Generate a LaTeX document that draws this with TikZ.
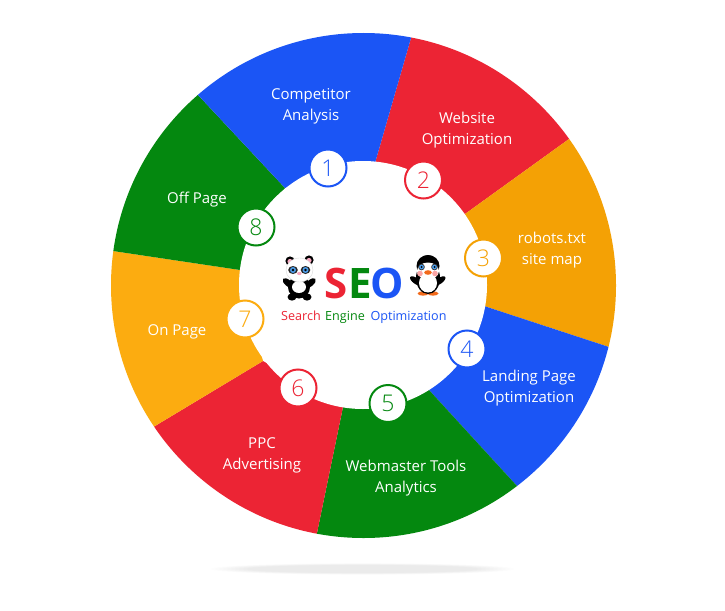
\documentclass[tikz,border=0pt]{standalone}
\usepackage{fontspec}
\setmainfont{Open Sans}
\newfontfamily\numfont{Open Sans Light}
\usetikzlibrary{calc}
\definecolor{sblue}{HTML}{1B55F5}
\definecolor{sred}{HTML}{EC2434}
\definecolor{sorange}{HTML}{F4A105}
\definecolor{sorangeb}{HTML}{FCAC10}
\definecolor{sgreen}{HTML}{04880F}
\definecolor{spink}{HTML}{F7A8C0}
\definecolor{seye}{HTML}{4A9BE8}
\definecolor{scheek}{HTML}{FBA5A5}
\definecolor{sbeak}{HTML}{F26A1B}
\tikzset{
  x=1pt,y=-1pt,
  lab/.style={text=white,align=center,font=\fontsize{15}{21}\selectfont,inner sep=0pt},
  num/.style={circle,draw=#1,fill=white,line width=2pt,minimum size=37pt,inner sep=0pt,text=#1,font=\numfont\fontsize{23}{24}\selectfont},
  seol/.style={font=\bfseries\fontsize{42}{44}\selectfont,anchor=base,inner sep=0pt},
  subt/.style={font=\fontsize{12.6}{14}\selectfont,anchor=base,inner sep=0pt}
}
% colour, outer point a, outer point b, inner point a, inner point b
\newcommand{\sect}[5]{\fill[#1] (#4) -- ($(#4)!1.7!(#2)$) -- ($(#5)!1.7!(#3)$) -- (#5) -- cycle;}
\begin{document}
\begin{tikzpicture}
\useasboundingbox (0,0) rectangle (725,610);
\fill[white] (0,0) rectangle (725,610);
% floor shadow
\foreach \k in {0,...,9}{
  \fill[black,opacity=0.008] (362.5,569) ellipse[x radius={152-\k*4},y radius={5.8-\k*0.2}];
}
% wheel
\begin{scope}
\clip (363.5,285.5) circle[radius=252.5];
\sect{sred}{411,38}{569,139}{375,163}{465,214}
\sect{sorange}{569,139}{609,347}{465,214}{484,306}
\sect{sblue}{609,347}{517,486}{484,306}{429,390}
\sect{sgreen}{517,486}{317,533}{429,390}{343,407}
\sect{sred}{317,533}{155,426}{343,407}{263,361}
\sect{sorangeb}{155,426}{113,251}{263,361}{240,270}
\sect{sgreen}{113,251}{198,95}{240,270}{285,188}
\sect{sblue}{198,95}{411,38}{285,188}{375,163}
\end{scope}
\fill[white] (363,285) circle[radius=124];
% labels
\node[lab] (l1) at (311,106) {Competitor\\Analysis};
\node[lab] (l2) at (467,130) {Website\\Optimization};
\node[lab] (l3) at (552,250) {robots.txt\\site map};
\node[lab] (l4) at (529,388) {Landing Page\\Optimization};
\node[lab] (l5) at (406,478) {Webmaster Tools\\Analytics};
\node[lab] (l6) at (262,455) {PPC\\Advertising};
\node[lab] (l7) at (177,332) {On Page};
\node[lab] (l8) at (197,200) {Off Page};
% numbers
\node[num=sblue] (n1) at (328,168) {1};
\node[num=sred] (n2) at (423.5,180) {2};
\node[num=sorange] (n3) at (483.5,258) {3};
\node[num=sblue] (n4) at (467,349) {4};
\node[num=sgreen] (n5) at (388,403.5) {5};
\node[num=sred] (n6) at (298,388) {6};
\node[num=sorangeb] (n7) at (245,319) {7};
\node[num=sgreen] (n8) at (256,227) {8};
% title
\node[seol,text=sred] (s) at (336.5,298) {S};
\node[seol,text=sgreen] (e) at (360,298) {E};
\node[seol,text=sblue] (o) at (387.5,298) {O};
\node[subt,text=sred] (w1) at (301,320) {Search};
\node[subt,text=sgreen] (w2) at (345,320) {Engine};
\node[subt,text=sblue] (w3) at (408.5,320) {Optimization};
% panda
\fill[black] (290,261) circle[radius=4.6];
\fill[black] (309,260) circle[radius=4.6];
\fill[spink] (290,261.5) circle[radius=2.6];
\fill[spink] (309,260.5) circle[radius=2.6];
\fill[black] (299,287) ellipse[x radius=11,y radius=11.5];
\fill[black,rotate around={-40:(288,283)}] (288,283) ellipse[x radius=6.5,y radius=3.2];
\fill[black,rotate around={40:(310.5,283)}] (310.5,283) ellipse[x radius=6.5,y radius=3.2];
\fill[black] (292,297) ellipse[x radius=4.5,y radius=3.6];
\fill[black] (307,297) ellipse[x radius=4.5,y radius=3.6];
\fill[white] (299,287) ellipse[x radius=7,y radius=6];
\fill[white,draw=black!15,line width=0.4pt] (299.5,270) ellipse[x radius=13.5,y radius=12];
\fill[black!85] (293,270) ellipse[x radius=4.8,y radius=4];
\fill[black!85] (305.5,270) ellipse[x radius=4.8,y radius=4];
\fill[seye] (293,270) circle[radius=3];
\fill[seye] (305.5,270) circle[radius=3];
\fill[black] (293,270) circle[radius=1.3];
\fill[black] (305.5,270) circle[radius=1.3];
\fill[spink] (299.3,273.5) ellipse[x radius=2.3,y radius=1.6];
% penguin
\fill[black,rotate around={-35:(416,281)}] (416,281) ellipse[x radius=7,y radius=3];
\fill[black,rotate around={35:(439.5,281)}] (439.5,281) ellipse[x radius=7,y radius=3];
\fill[sbeak] (423,293.5) ellipse[x radius=5.5,y radius=2.2];
\fill[sbeak] (433,293.5) ellipse[x radius=5.5,y radius=2.2];
\fill[black] (428,278) ellipse[x radius=12,y radius=16];
\fill[black] (428,266) ellipse[x radius=11.5,y radius=11];
\fill[white] (428,283) ellipse[x radius=9,y radius=9.5];
\fill[white] (428,271) ellipse[x radius=11,y radius=8.5];
\fill[black] (428,258) ellipse[x radius=6,y radius=2.6];
\fill[black!80] (421.5,267) circle[radius=3.3];
\fill[black!80] (434.5,267) circle[radius=3.3];
\fill[seye] (421.5,267) circle[radius=2.4];
\fill[seye] (434.5,267) circle[radius=2.4];
\fill[black] (421.5,267) circle[radius=1];
\fill[black] (434.5,267) circle[radius=1];
\fill[scheek] (420,273.5) circle[radius=2.8];
\fill[scheek] (435,273.5) circle[radius=2.8];
\fill[sbeak] (428,272.5) ellipse[x radius=3.8,y radius=2.3];
\end{tikzpicture}
\end{document}
